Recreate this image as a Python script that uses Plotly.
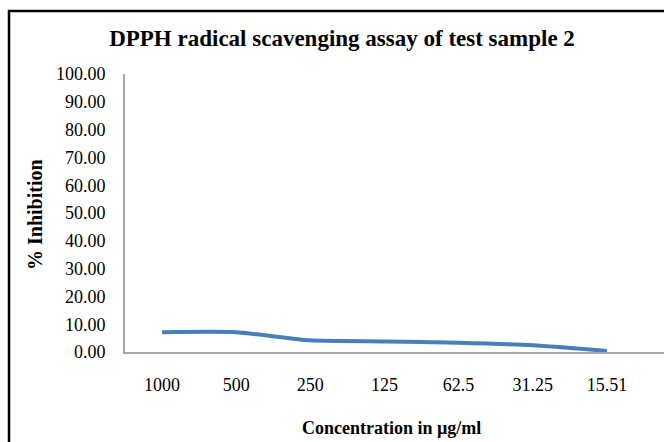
import plotly.graph_objects as go

concentrations = ["1000", "500", "250", "125", "62.5", "31.25", "15.51"]
inhibition = [7.1, 7.1, 4.2, 3.8, 3.3, 2.4, 0.4]
y_ticks = [0, 10, 20, 30, 40, 50, 60, 70, 80, 90, 100]
y_tick_labels = ["%.2f" % v for v in y_ticks]

W, H = 664, 442
L, R, T, B = 125, 0, 74, 90
pw, ph = W - L - R, H - T - B


def px2x(px):
    return (px - L) / pw


def py2y(py):
    return (T + ph - py) / ph


fig = go.Figure()
fig.add_trace(go.Scatter(
    x=list(range(len(concentrations))), y=inhibition, mode="lines",
    line=dict(color="#4A7EBB", width=4, shape="spline", smoothing=0.6),
    showlegend=False, hoverinfo="skip",
))

font = "Liberation Serif, Times New Roman, serif"
fig.update_layout(
    width=W, height=H,
    margin=dict(l=L, r=R, t=T, b=B),
    paper_bgcolor="white", plot_bgcolor="white",
    font=dict(family=font, color="black", size=16),
    title=dict(text="<b>DPPH radical scavenging assay of test sample 2</b>",
               x=342 / W, xref="container", xanchor="center",
               y=1 - 38 / H, yref="container", yanchor="middle",
               font=dict(size=23, family=font, color="black")),
    xaxis=dict(
        tickmode="array", tickvals=list(range(len(concentrations))),
        ticktext=concentrations,
        range=[-0.5, 6.5 + (664 - 644) / 74],
        showline=True, linecolor="#A6A6A6", linewidth=2, mirror=False,
        showgrid=False, zeroline=False, ticks="",
        ticklabelstandoff=15,
        tickfont=dict(size=18, family=font),
    ),
    yaxis=dict(
        range=[0, 100], tickmode="array", tickvals=y_ticks, ticktext=y_tick_labels,
        showline=True, linecolor="#A6A6A6", linewidth=2,
        showgrid=False, zeroline=False, ticks="",
        ticklabelstandoff=14,
        tickfont=dict(size=18, family=font),
    ),
    annotations=[
        dict(text="<b>Concentration in µg/ml</b>", xref="paper", yref="paper",
             x=px2x(391), y=py2y(428), xanchor="center", yanchor="middle",
             showarrow=False, font=dict(size=18, family=font, color="black")),
        dict(text="<b>% Inhibition</b>", xref="paper", yref="paper",
             x=px2x(35), y=py2y(215), xanchor="center", yanchor="middle",
             textangle=-90, showarrow=False,
             font=dict(size=20, family=font, color="black")),
    ],
    shapes=[
        dict(type="line", xref="paper", yref="paper",
             x0=px2x(9), x1=px2x(9), y0=py2y(10), y1=py2y(H + 5),
             line=dict(color="black", width=2.5)),
        dict(type="line", xref="paper", yref="paper",
             x0=px2x(8), x1=px2x(W + 5), y0=py2y(11), y1=py2y(11),
             line=dict(color="black", width=2.5)),
    ],
)
fig.write_html("out.html", config={"displayModeBar": False},
               post_script="document.body.style.margin='0';")
